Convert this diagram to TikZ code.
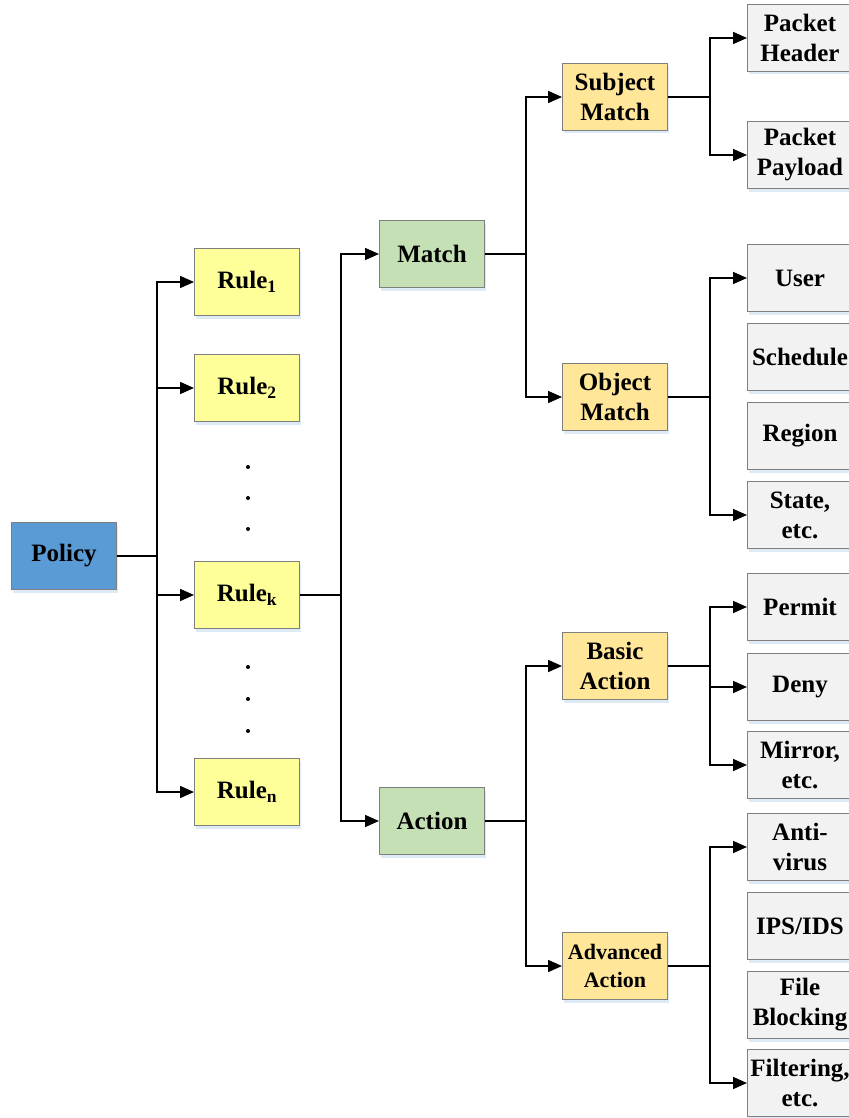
\documentclass[tikz,border=0pt]{standalone}
\usepackage{xcolor}
\usepackage{fontspec}
\setmainfont{Liberation Serif}
\usepackage{tikz}
\usetikzlibrary{arrows.meta, positioning, shadows}

\definecolor{policyblue}{HTML}{5B9BD5}
\definecolor{ruleyellow}{HTML}{FFFF99}
\definecolor{matchgreen}{HTML}{C5E0B4}
\definecolor{suborange}{HTML}{FFE699}
\definecolor{leafgray}{HTML}{F2F2F2}
\definecolor{edgegray}{HTML}{7F7F7F}
\definecolor{shadowblue}{HTML}{DEEBF7}

\begin{document}
\begin{tikzpicture}[
    x=1pt, y=-1pt,
    box/.style={draw=edgegray, line width=1pt, rectangle, minimum width=105pt, minimum height=67pt,
        align=center, inner sep=1pt, font=\fontsize{25}{30}\selectfont\bfseries,
        drop shadow={shadow xshift=1pt, shadow yshift=-3pt, fill=shadowblue, opacity=1}},
    line/.style={line width=1.6pt},
    arrow/.style={line width=1.6pt, -{Triangle[length=14pt, width=12pt]}}
]
    \useasboundingbox (0,0) rectangle (848,1118);

    % policy and rules
    \node[box, fill=policyblue] (policy) at (64,556) {Policy};
    \node[box, fill=ruleyellow] (rule1) at (247,282) {Rule\textsubscript{1}};
    \node[box, fill=ruleyellow] (rule2) at (247,388) {Rule\textsubscript{2}};
    \node[box, fill=ruleyellow] (rulek) at (247,595) {Rule\textsubscript{k}};
    \node[box, fill=ruleyellow] (rulen) at (247,792) {Rule\textsubscript{n}};
    \foreach \y in {467,498,529,667,699,731}
        \fill (248,\y) circle (2pt);

    % match and action
    \node[box, fill=matchgreen] (match) at (432,254) {Match};
    \node[box, fill=matchgreen] (action) at (432,821) {Action};

    \node[box, fill=suborange] (subject) at (615,97) {Subject\\Match};
    \node[box, fill=suborange] (object) at (615,397) {Object\\Match};
    \node[box, fill=suborange] (basic) at (615,666) {Basic\\Action};
    \node[box, fill=suborange, font=\fontsize{22}{28}\selectfont\bfseries] (advanced) at (615,966) {Advanced\\Action};

    % leaves
    \node[box, fill=leafgray] (header) at (800,38) {Packet\\Header};
    \node[box, fill=leafgray] (payload) at (800,155) {Packet\\Payload};
    \node[box, fill=leafgray] (user) at (800,278) {User};
    \node[box, fill=leafgray] (schedule) at (800,357) {Schedule};
    \node[box, fill=leafgray] (region) at (800,436) {Region};
    \node[box, fill=leafgray] (state) at (800,515) {State,\\etc.};
    \node[box, fill=leafgray] (permit) at (800,607) {Permit};
    \node[box, fill=leafgray] (deny) at (800,687) {Deny};
    \node[box, fill=leafgray] (mirror) at (800,765) {Mirror,\\etc.};
    \node[box, fill=leafgray] (antivirus) at (800,847) {Anti-\\virus};
    \node[box, fill=leafgray] (ips) at (800,926) {IPS/IDS};
    \node[box, fill=leafgray] (blocking) at (800,1005) {File\\Blocking};
    \node[box, fill=leafgray] (filtering) at (800,1083) {Filtering,\\etc.};

    % bus lines
    \coordinate (b0) at (157,0);
    \coordinate (b1) at (341,0);
    \coordinate (b2) at (526,0);
    \coordinate (b3) at (710,0);

    \foreach \r in {rule1,rule2,rulek,rulen}
        \draw[arrow] (policy.east) -- (policy -| b0) |- (\r.west);
    \foreach \r in {match,action}
        \draw[arrow] (rulek.east) -- (rulek -| b1) |- (\r.west);
    \foreach \r in {subject,object}
        \draw[arrow] (match.east) -- (match -| b2) |- (\r.west);
    \foreach \r in {basic,advanced}
        \draw[arrow] (action.east) -- (action -| b2) |- (\r.west);
    \foreach \r in {header,payload}
        \draw[arrow] (subject.east) -- (subject -| b3) |- (\r.west);
    \foreach \r in {user,state}
        \draw[arrow] (object.east) -- (object -| b3) |- (\r.west);
    \foreach \r in {permit,deny,mirror}
        \draw[arrow] (basic.east) -- (basic -| b3) |- (\r.west);
    \foreach \r in {antivirus,filtering}
        \draw[arrow] (advanced.east) -- (advanced -| b3) |- (\r.west);
\end{tikzpicture}
\end{document}
